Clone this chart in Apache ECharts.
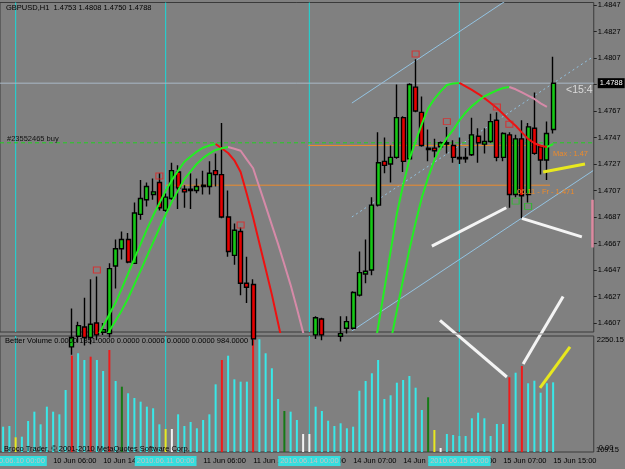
<!DOCTYPE html>
<html>
<head>
<meta charset="utf-8">
<title>GBPUSD,H1</title>
<script src="https://cdn.jsdelivr.net/npm/echarts@6.0.0/dist/echarts.min.js"></script>
<style>
  html, body { margin: 0; padding: 0; background: #808080; }
  #chart { width: 625px; height: 469px; }
</style>
</head>
<body>
<div id="chart"></div>
<script>
// hours on the chart: [day, first hour, last hour]
var sessions = [['9 Jun', 22, 23], ['10 Jun', 0, 23], ['11 Jun', 0, 22], ['14 Jun', 0, 23], ['15 Jun', 0, 15]];
var separatorLabels = ['2010.06.10 00:00', '2010.06.11 00:00', '2010.06.14 00:00', '2010.06.15 00:00'];
var emptySlots = 6; // chart shift on the right

// open, close, low, high
var candles = [
  [1.4560, 1.4565, 1.4555, 1.4570], [1.4565, 1.4558, 1.4552, 1.4569], [1.4558, 1.4562, 1.4550, 1.4566],
  [1.4562, 1.4570, 1.4557, 1.4574], [1.4570, 1.4566, 1.4561, 1.4578], [1.4566, 1.4575, 1.4563, 1.4580],
  [1.4575, 1.4583, 1.4570, 1.4588], [1.4583, 1.4578, 1.4572, 1.4590], [1.4578, 1.4586, 1.4575, 1.4592],
  [1.4586, 1.4580, 1.4574, 1.4594], [1.4580, 1.4589, 1.4576, 1.4596], [1.4589, 1.4596, 1.4583, 1.4618],
  [1.4597, 1.4605, 1.4592, 1.4608], [1.4604, 1.4596, 1.4590, 1.4626], [1.4596, 1.4606, 1.4591, 1.4640],
  [1.4607, 1.4598, 1.4594, 1.4642], [1.4600, 1.4602, 1.4598, 1.4607], [1.4599, 1.4648, 1.4596, 1.4652],
  [1.4650, 1.4663, 1.4633, 1.4670], [1.4663, 1.4670, 1.4655, 1.4676], [1.4670, 1.4653, 1.4652, 1.4675],
  [1.4652, 1.4690, 1.4652, 1.4698], [1.4689, 1.4701, 1.4685, 1.4715], [1.4700, 1.4710, 1.4695, 1.4713],
  [1.4704, 1.4706, 1.4700, 1.4716], [1.4713, 1.4694, 1.4692, 1.4720], [1.4692, 1.4702, 1.4691, 1.4705],
  [1.4701, 1.4722, 1.4700, 1.4728], [1.4721, 1.4709, 1.4693, 1.4726], [1.4708, 1.4706, 1.4694, 1.4711],
  [1.4708, 1.4707, 1.4693, 1.4720], [1.4707, 1.4710, 1.4705, 1.4716], [1.4710, 1.4711, 1.4704, 1.4722],
  [1.4710, 1.4720, 1.4704, 1.4729], [1.4722, 1.4719, 1.4710, 1.4735], [1.4719, 1.4687, 1.4686, 1.4758],
  [1.4687, 1.4661, 1.4657, 1.4707], [1.4658, 1.4677, 1.4651, 1.4682], [1.4676, 1.4637, 1.4628, 1.4679],
  [1.4637, 1.4634, 1.4622, 1.4657], [1.4636, 1.4595, 1.4590, 1.4640], [1.4595, 1.4582, 1.4575, 1.4599],
  [1.4582, 1.4588, 1.4570, 1.4594], [1.4588, 1.4576, 1.4568, 1.4592], [1.4576, 1.4583, 1.4571, 1.4590],
  [1.4583, 1.4579, 1.4574, 1.4589], [1.4579, 1.4585, 1.4575, 1.4591], [1.4585, 1.4582, 1.4578, 1.4590],
  [1.4582, 1.4584, 1.4579, 1.4588], [1.4584, 1.4590, 1.4580, 1.4595], [1.4598, 1.4611, 1.4595, 1.4612],
  [1.4610, 1.4598, 1.4594, 1.4611], [1.4598, 1.4594, 1.4590, 1.4600], [1.4594, 1.4597, 1.4589, 1.4600],
  [1.4597, 1.4599, 1.4593, 1.4612], [1.4603, 1.4608, 1.4599, 1.4612], [1.4603, 1.4630, 1.4602, 1.4631],
  [1.4628, 1.4645, 1.4627, 1.4661], [1.4644, 1.4646, 1.4637, 1.4670], [1.4647, 1.4696, 1.4643, 1.4702],
  [1.4696, 1.4728, 1.4695, 1.4751], [1.4729, 1.4726, 1.4720, 1.4747], [1.4727, 1.4732, 1.4713, 1.4741],
  [1.4732, 1.4762, 1.4731, 1.4787], [1.4762, 1.4729, 1.4721, 1.4763], [1.4731, 1.4787, 1.4730, 1.4788],
  [1.4785, 1.4767, 1.4766, 1.4806], [1.4766, 1.4741, 1.4740, 1.4778], [1.4738, 1.4739, 1.4729, 1.4753],
  [1.4739, 1.4737, 1.4732, 1.4746], [1.4740, 1.4743, 1.4738, 1.4744], [1.4742, 1.4743, 1.4735, 1.4755],
  [1.4741, 1.4732, 1.4728, 1.4745], [1.4732, 1.4731, 1.4727, 1.4747], [1.4731, 1.4732, 1.4728, 1.4739],
  [1.4734, 1.4749, 1.4733, 1.4762], [1.4748, 1.4743, 1.4728, 1.4754], [1.4742, 1.4744, 1.4735, 1.4754],
  [1.4744, 1.4759, 1.4743, 1.4765], [1.4760, 1.4732, 1.4729, 1.4766], [1.4732, 1.4750, 1.4729, 1.4751],
  [1.4749, 1.4704, 1.4694, 1.4751], [1.4704, 1.4746, 1.4702, 1.4749], [1.4746, 1.4703, 1.4686, 1.4760],
  [1.4704, 1.4755, 1.4698, 1.4758], [1.4754, 1.4735, 1.4734, 1.4781], [1.4740, 1.4730, 1.4719, 1.4741],
  [1.4730, 1.4750, 1.4715, 1.4759], [1.4753, 1.4788, 1.4750, 1.4808]
];

var volumes = [
  491, 504, 285, 297, 601, 782, 537, 879, 782, 731,
  1203, 1868, 1915, 1785, 1849, 1785, 1571, 1979, 1377, 1267,
  1139, 1047, 976, 879, 848, 537, 446, 446, 731, 504,
  582, 460, 621, 731, 1313, 1785, 1868, 1410, 1364, 1364,
  2173, 2186, 1915, 1624, 1028, 795, 782, 621, 349, 349,
  879, 795, 607, 504, 557, 460, 491, 1189, 1377, 1527,
  1785, 1028, 1100, 1344, 1397, 1474, 1247, 815, 1061, 427,
  78, 349, 330, 310, 310, 654, 762, 654, 310, 543,
  543, 1449, 1538, 1668, 1333, 1383, 1150, 1333, 1351
];
// Better Volume class: n normal, hi climax high, lo climax low, ch churn, lv low volume
var volKind = [
  'n', 'n', 'lv', 'n', 'n', 'n', 'n', 'n', 'n', 'n',
  'n', 'hi', 'n', 'n', 'hi', 'n', 'n', 'hi', 'n', 'ch',
  'n', 'n', 'n', 'n', 'n', 'n', 'lv', 'lo', 'n', 'n',
  'n', 'n', 'n', 'n', 'n', 'hi', 'n', 'n', 'n', 'n',
  'hi', 'n', 'n', 'n', 'n', 'ch', 'n', 'n', 'lo', 'lo',
  'n', 'n', 'n', 'n', 'n', 'n', 'n', 'n', 'n', 'n',
  'n', 'n', 'n', 'n', 'n', 'n', 'n', 'n', 'ch', 'lv',
  'lo', 'n', 'n', 'n', 'n', 'n', 'n', 'n', 'n', 'n',
  'n', 'hi', 'n', 'hi', 'n', 'n', 'n', 'n', 'n'
];
var volAverage = 984;

// two smoothed averages, [first bar, values]
var fastLeft = [15, [1.45958, 1.46046, 1.46136, 1.46224, 1.46331, 1.46443, 1.46555, 1.46666, 1.46777, 1.46879,
  1.46974, 1.47068, 1.47147, 1.47220, 1.47287, 1.47326, 1.47364, 1.47393, 1.47410, 1.47421,
  1.47387, 1.47353, 1.47298, 1.47209, 1.47042, 1.46866, 1.46672, 1.46480, 1.46284, 1.46068, 1.45851]];
var fastRight = [59, [1.45764, 1.46040, 1.46325, 1.46610, 1.46896, 1.47112, 1.47302, 1.47442, 1.47573, 1.47690,
  1.47761, 1.47818, 1.47866, 1.47878, 1.47882, 1.47856, 1.47829, 1.47800, 1.47767, 1.47731,
  1.47693, 1.47647, 1.47601, 1.47559, 1.47509, 1.47460, 1.47427, 1.47408, 1.47398, 1.47421]];
var slowLeft = [16, [1.45930, 1.46010, 1.46087, 1.46167, 1.46257, 1.46362, 1.46465, 1.46573, 1.46679, 1.46785,
  1.46887, 1.46986, 1.47071, 1.47156, 1.47215, 1.47272, 1.47316, 1.47348, 1.47376, 1.47389,
  1.47398, 1.47385, 1.47370, 1.47303, 1.47238, 1.47095, 1.46954, 1.46809, 1.46665, 1.46511,
  1.46356, 1.46182, 1.45999, 1.45813]];
var slowRight = [62, [1.45927, 1.46164, 1.46398, 1.46622, 1.46828, 1.47018, 1.47167, 1.47299, 1.47392, 1.47467,
  1.47527, 1.47599, 1.47659, 1.47707, 1.47746, 1.47781, 1.47804, 1.47826, 1.47844, 1.47851,
  1.47834, 1.47810, 1.47786, 1.47761, 1.47728, 1.47702]];

// fractals [bar, price]
var fractalUp = [[15, 1.4647], [25, 1.4718], [38, 1.4681], [66, 1.4810], [71, 1.4759], [79, 1.4770], [81, 1.4757]];
var fractalDown = [[82, 1.4699], [84, 1.4695]];

// regression channel [bar, price]
var channelUpper = [[55.8, 1.4773], [94.4, 1.4894]];
var channelMiddle = [[55.8, 1.4687], [94.4, 1.4808]];
var channelLower = [[55.8, 1.4601], [94.4, 1.4722]];

// levels
var bidPrice = 1.4788;
var orderPrice = 1.4743;
var fridayLevel = [[26, 1.4711], [87.5, 1.4711]];
var mondayMax = [[48.8, 1.4741], [87.5, 1.4741]];
var rangeBar = [1.4664, 1.4700];

// hand drawn lines, price window [bar, price]
var whiteLines = [
  [[68.6, 1.4665], [80.5, 1.4694]],
  [[83.0, 1.4686], [92.6, 1.4672]],
  [[69.9, 1.4609], [80.6, 1.4566]],
  [[83.2, 1.4576], [89.6, 1.4627]]
];
var yellowLine = [[86.4, 1.4721], [93.1, 1.4727]];
// hand drawn lines, volume window [bar, volume]
var volWhiteLines = [
  [[69.9, 2561], [80.6, 1455]],
  [[83.2, 1707], [89.6, 3026]]
];
var volYellowLine = [[85.9, 1242], [90.7, 2037]];

// axis ticks
var priceTicks = [1.4607, 1.4627, 1.4647, 1.4667, 1.4687, 1.4707, 1.4727, 1.4747, 1.4767, 1.4787, 1.4807, 1.4827, 1.4847];
var priceMin = 1.46002, priceMax = 1.48489;
var volTopLabel = 2250.15;
var volBottomExtra = '109.15';

var FONT = 'Liberation Sans';
var FS = 7.5;

var categories = [];
sessions.forEach(function (s) {
  for (var h = s[1]; h <= s[2]; h++) {
    categories.push(s[0] + ' ' + (h < 10 ? '0' : '') + h + ':00');
  }
});
var dayStart = [];
categories.forEach(function (c, i) { if (/ 00:00$/.test(c)) dayStart.push(i); });
var nBars = categories.length;
for (var k = 0; k < emptySlots; k++) categories.push('');
var xMin = -0.5, xMax = categories.length - 0.5;

var kindColor = { n: '#38e8e8', hi: '#ee1b1b', lo: '#f2f2f2', ch: '#157a15', lv: '#e8e820' };

function runs(src, rising) {
  var from = src[0], v = src[1], out = [], cur = null;
  for (var j = 1; j < v.length; j++) {
    var ok = rising ? v[j] >= v[j - 1] : v[j] < v[j - 1];
    if (ok) {
      if (!cur) { cur = [[from + j - 1, v[j - 1]]]; out.push(cur); }
      cur.push([from + j, v[j]]);
    } else {
      cur = null;
    }
  }
  return out;
}

function line(xi, yi, data, color, width, type, z) {
  return {
    type: 'line', xAxisIndex: xi, yAxisIndex: yi, data: data, symbol: 'none', silent: true,
    clip: true, z: z || 3, lineStyle: { color: color, width: width, type: type || 'solid' }
  };
}

// thin full-height bands at the start of each day
var separatorBands = {
  silent: true, itemStyle: { color: 'rgba(30,212,212,0.95)' },
  data: dayStart.map(function (i) { return [{ xAxis: i - 0.09 }, { xAxis: i + 0.09 }]; })
};

var series = [];

// channel
var up = line(2, 0, channelUpper, '#93c3e2', 1, 'solid', 2);
up.markArea = {
  silent: true, itemStyle: { color: '#dc8aa0' },
  data: [[{ xAxis: 94.1, yAxis: rangeBar[0] }, { xAxis: 94.5, yAxis: rangeBar[1] }]]
};
series.push(up);
var mid = line(2, 0, channelMiddle, '#93c3e2', 1, [2, 3], 2);
mid.markArea = separatorBands;
series.push(mid);
series.push(line(2, 0, channelLower, '#93c3e2', 1, 'solid', 2));

// levels
series.push(line(2, 0, fridayLevel, '#ec8a2a', 1, 'solid', 2));
series.push(line(2, 0, mondayMax, '#ec8a2a', 1, 'solid', 2));
series.push(line(2, 0, [[xMin, bidPrice], [xMax, bidPrice]], '#a9b8c6', 1, 'solid', 2));
series.push(line(2, 0, [[xMin, orderPrice], [xMax, orderPrice]], '#20d020', 1, [4, 3], 2));

series.push({
  type: 'candlestick', xAxisIndex: 0, yAxisIndex: 0, data: candles.slice(), barWidth: 4.5, clip: true, z: 4,
  silent: true,
  itemStyle: { color: '#16c816', color0: '#e60000', borderColor: '#000', borderColor0: '#000', borderWidth: 1.4 }
});

[[fastLeft, '#ee1111'], [fastRight, '#ee1111'], [slowLeft, '#d68aa8'], [slowRight, '#d68aa8']].forEach(function (c) {
  runs(c[0], true).forEach(function (r) { series.push(line(2, 0, r, '#22ee22', 2, 'solid', 5)); });
  runs(c[0], false).forEach(function (r) { series.push(line(2, 0, r, c[1], 2, 'solid', 5)); });
});

whiteLines.forEach(function (l) { series.push(line(2, 0, l, '#f4f4f4', 3, 'solid', 6)); });
series.push(line(2, 0, yellowLine, '#e8e81e', 3, 'solid', 6));

series.push({
  type: 'scatter', xAxisIndex: 2, yAxisIndex: 0, data: fractalUp, symbol: 'rect', symbolSize: [7, 6], silent: true, z: 6,
  itemStyle: { color: 'rgba(0,0,0,0)', borderColor: '#e52222', borderWidth: 1 }
});
series.push({
  type: 'scatter', xAxisIndex: 2, yAxisIndex: 0, data: fractalDown, symbol: 'rect', symbolSize: [7, 6], silent: true, z: 6,
  itemStyle: { color: 'rgba(0,0,0,0)', borderColor: '#22c022', borderWidth: 1 }
});

// volume window
series.push({
  type: 'bar', xAxisIndex: 1, yAxisIndex: 1, barWidth: 2, silent: true, z: 3,
  data: volumes.map(function (v, i) { return { value: v, itemStyle: { color: kindColor[volKind[i]] } }; })
});
volWhiteLines.forEach(function (l) { series.push(line(3, 1, l, '#f4f4f4', 3, 'solid', 6)); });
var vy = line(3, 1, volYellowLine, '#e8e81e', 3, 'solid', 6);
vy.markArea = separatorBands;
series.push(vy);

var last = candles[candles.length - 1];
var header = 'GBPUSD,H1  ' + [last[0], last[3], last[2], last[1]].map(function (v) { return v.toFixed(4); }).join(' ');
var volHeader = 'Better Volume 0.0000 ' + volumes[nBars - 1].toFixed(4) + ' 0.0000 0.0000 0.0000 0.0000 ' + volAverage.toFixed(4);

var priceLabels = priceTicks.filter(function (v) { return Math.abs(v - bidPrice) > 0.0005; }).concat([bidPrice]);

function txt(x, y, s, color, size) {
  return { type: 'text', left: x, top: y, z: 50, silent: true,
    style: { text: s, fill: color, fontSize: size || FS, fontFamily: FONT } };
}

var gridBase = { show: true, borderColor: '#3a3a3a', borderWidth: 1, backgroundColor: 'transparent',
  containLabel: false, outerBoundsMode: 'none' };

var option = {
  animation: false,
  backgroundColor: '#808080',
  textStyle: { fontFamily: FONT },
  grid: [
    Object.assign({ left: 0, top: 2.5, width: 593.75, height: 329.5 }, gridBase),
    Object.assign({ left: 0, top: 336, width: 593.75, height: 116 }, gridBase)
  ],
  xAxis: [
    { type: 'category', gridIndex: 0, data: categories, show: false },
    {
      type: 'category', gridIndex: 1, data: categories, position: 'bottom',
      axisLine: { show: false }, axisTick: { show: false },
      axisLabel: {
        interval: function (i) { return i % 8 === 0 && i < nBars; },
        hideOverlap: false, align: 'left', margin: 5, color: '#000', fontSize: FS, fontFamily: FONT
      }
    },
    { type: 'value', gridIndex: 0, min: xMin, max: xMax, show: false },
    { type: 'value', gridIndex: 1, min: xMin, max: xMax, show: false },
    {
      type: 'category', gridIndex: 1, data: categories, position: 'bottom', z: 10,
      axisLine: { show: false }, axisTick: { show: false },
      axisLabel: {
        interval: function (i) { return dayStart.indexOf(i) >= 0; },
        hideOverlap: false, align: 'center', margin: 4,
        formatter: function (v, i) { return '{sep|' + separatorLabels[dayStart.indexOf(i)] + '}'; },
        rich: { sep: { backgroundColor: '#35dede', color: '#c4c4c4', fontSize: FS, fontFamily: FONT, padding: [1, 2, 1, 2] } }
      }
    }
  ],
  yAxis: [
    {
      type: 'value', gridIndex: 0, position: 'right', min: priceMin, max: priceMax, scale: true,
      splitLine: { show: false }, axisLine: { show: false, onZero: false },
      axisTick: { show: true, length: 3, customValues: priceTicks, lineStyle: { color: '#222' } },
      axisLabel: {
        customValues: priceLabels, margin: 4, color: '#000', fontSize: FS, fontFamily: FONT, hideOverlap: false,
        formatter: function (v) {
          return Math.abs(v - bidPrice) < 0.00001 ? '{bid|' + v.toFixed(4) + '}' : v.toFixed(4);
        },
        rich: { bid: { backgroundColor: '#000', color: '#fff', fontSize: FS, fontFamily: FONT, padding: [1, 2, 1, 2] } }
      }
    },
    {
      type: 'value', gridIndex: 1, position: 'right', min: 0, max: volTopLabel,
      splitLine: { show: false }, axisLine: { show: false, onZero: false }, axisTick: { show: false },
      axisLabel: { customValues: [volTopLabel], verticalAlign: 'top', margin: 3, color: '#000', fontSize: FS,
        fontFamily: FONT, formatter: function (v) { return v.toFixed(2); } }
    },
    {
      type: 'value', gridIndex: 1, position: 'right', min: 0, max: volTopLabel,
      splitLine: { show: false }, axisLine: { show: false, onZero: false }, axisTick: { show: false },
      axisLabel: { customValues: [0], verticalAlign: 'bottom', margin: 5, color: '#000', fontSize: FS,
        fontFamily: FONT, formatter: function (v) { return v.toFixed(2); } }
    }
  ],
  series: series,
  graphic: [
    txt(6, 4, header, '#000'),
    txt(7, 134.5, '#23552465 buy', '#111'),
    txt(566, 84.5, '<15:4', '#dadada', 10.5),
    txt(553, 150, 'Max : 1.47', '#ec8a2a'),
    txt(517, 188, '06.11 - Fr - 1.471', '#ec8a2a'),
    txt(5, 337, volHeader, '#000'),
    txt(4, 444.5, 'Broco Trader, \u00a9 2001-2010 MetaQuotes Software Corp.', '#000'),
    txt(596, 446, volBottomExtra, '#000')
  ]
};

var chart = echarts.init(document.getElementById('chart'));
chart.setOption(option);
</script>
</body>
</html>
